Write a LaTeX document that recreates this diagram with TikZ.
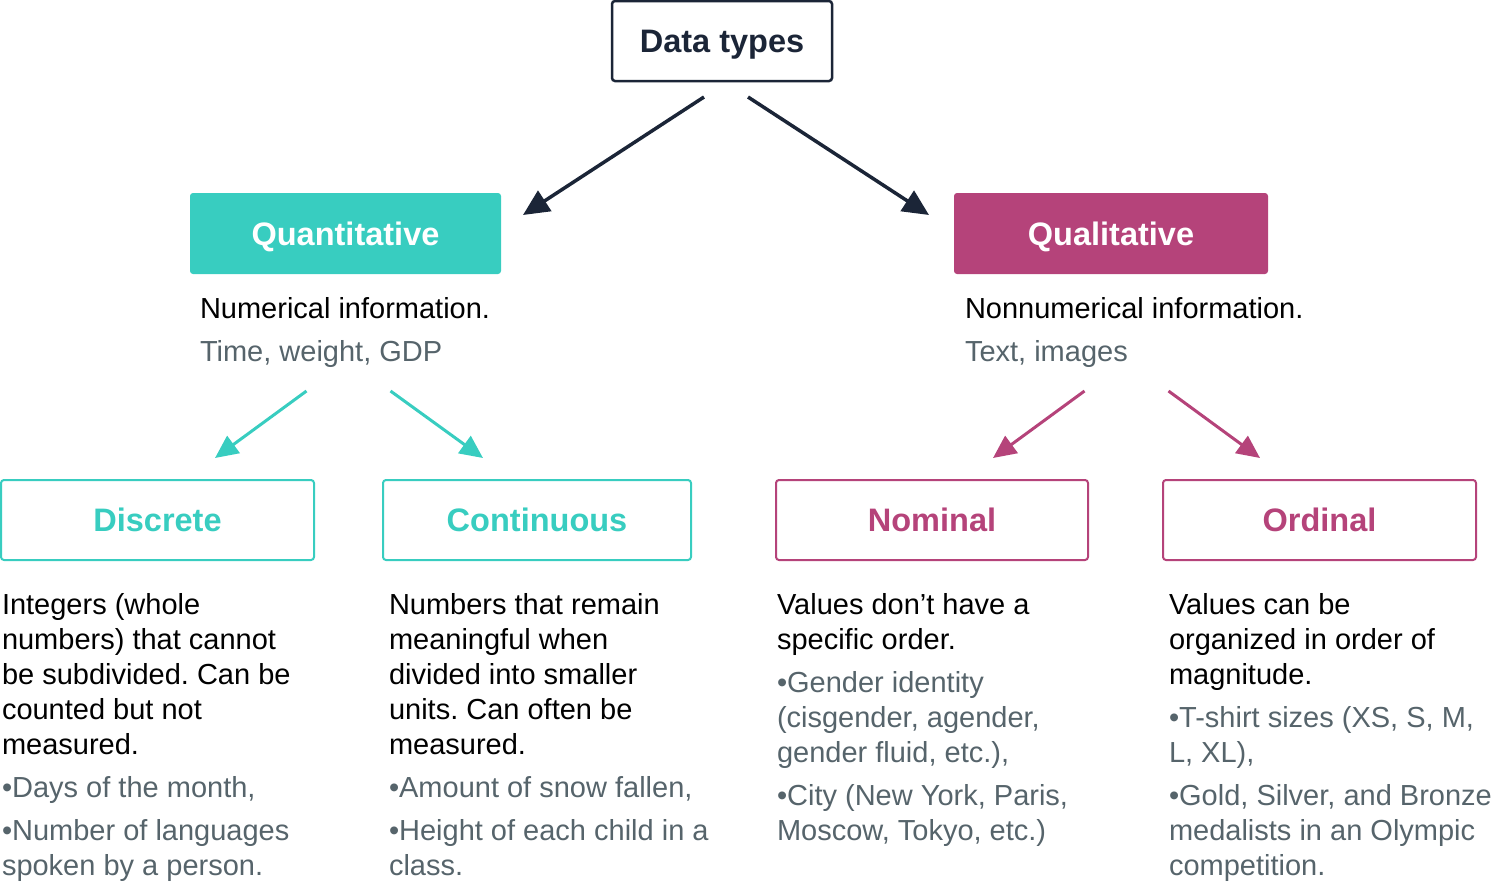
\documentclass[tikz,border=0pt]{standalone}
\usepackage{fontspec}
\setmainfont{Liberation Sans}
\usetikzlibrary{arrows.meta}
\frenchspacing

\definecolor{navy}{HTML}{1B2537}
\definecolor{quantc}{HTML}{38CDC0}
\definecolor{qualc}{HTML}{B5437A}
\definecolor{notec}{HTML}{56646B}

\begin{document}
\begin{tikzpicture}[x=1pt,y=-1pt,
  every node/.style={inner sep=0pt, outer sep=0pt},
  boxlabel/.style={font=\fontsize{32.5}{38}\selectfont\bfseries, text height=23pt, text depth=0pt,
                   minimum height=80pt, rounded corners=3pt},
  filledbox/.style={boxlabel, text=white, minimum height=81pt},
  framebox/.style={boxlabel, draw=#1, text=#1, line width=2pt, fill=white},
  % multi-line text blocks are placed by the baseline of their last line
  desc/.style={font=\fontsize{29}{35}\selectfont, text=black, align=left, anchor=base west},
  example/.style={desc, text=notec},
  bigarrow/.style={draw=navy, line width=3.5pt, -{Triangle[length=26pt,width=24pt]}},
  subarrow/.style={draw=#1, line width=3pt, -{Triangle[length=23pt,width=21pt]}}
]
\useasboundingbox (0,0) rectangle (1494,892);

% top level
\node[boxlabel, draw=navy, text=navy, line width=2.5pt, minimum width=220pt] (types) at (722,41) {Data types};

% second level
\node[filledbox, fill=quantc, minimum width=311pt] (quant) at (345.5,233.5) {Quantitative};
\node[filledbox, fill=qualc, minimum width=314pt] (qual) at (1111,233.5) {Qualitative};

\node[desc] (quantdesc) at (200,318) {Numerical information.};
\node[example] (quantex) at (200,361) {Time, weight, GDP};
\node[desc] (qualdesc) at (965,318) {Nonnumerical information.};
\node[example] (qualex) at (965,361) {Text, images};

% arrows from the top box
\coordinate (typesL) at (704,97);
\coordinate (typesR) at (748,97);
\coordinate (quantIn) at (523,215);
\coordinate (qualIn) at (929,215);
\draw[bigarrow] (typesL) -- (quantIn);
\draw[bigarrow] (typesR) -- (qualIn);

% third level
\node[framebox=quantc, minimum width=313pt] (disc) at (157.5,520) {Discrete};
\node[framebox=quantc, minimum width=308pt] (cont) at (537,520) {Continuous};
\node[framebox=qualc, minimum width=312pt] (nom) at (932,520) {Nominal};
\node[framebox=qualc, minimum width=313pt] (ord) at (1319.5,520) {Ordinal};

% arrows to the third level
\coordinate (quantL) at (306.5,391);
\coordinate (quantR) at (390.5,391);
\coordinate (qualL) at (1084.5,391);
\coordinate (qualR) at (1168.5,391);
\coordinate (discIn) at (215,458);
\coordinate (contIn) at (483,458);
\coordinate (nomIn) at (993,458);
\coordinate (ordIn) at (1260,458);
\draw[subarrow=quantc] (quantL) -- (discIn);
\draw[subarrow=quantc] (quantR) -- (contIn);
\draw[subarrow=qualc] (qualL) -- (nomIn);
\draw[subarrow=qualc] (qualR) -- (ordIn);

% descriptions and examples
\node[desc] (discdesc) at (2,754) {Integers (whole\\numbers) that cannot\\be subdivided. Can be\\counted but not\\measured.};
\node[example] (discex) at (2,875) {•Days of the month,\\[8pt]•Number of languages\\spoken by a person.};

\node[desc] (contdesc) at (389,754) {Numbers that remain\\meaningful when\\divided into smaller\\units. Can often be\\measured.};
\node[example] (contex) at (389,875) {•Amount of snow fallen,\\[8pt]•Height of each child in a\\class.};

\node[desc] (nomdesc) at (777,649) {Values don’t have a\\specific order.};
\node[example] (nomex) at (777,840) {•Gender identity\\(cisgender, agender,\\gender fluid, etc.),\\[8pt]•City (New York, Paris,\\Moscow, Tokyo, etc.)};

\node[desc] (orddesc) at (1169,684) {Values can be\\organized in order of\\magnitude.};
\node[example] (ordex) at (1169,875) {•T-shirt sizes (XS, S, M,\\L, XL),\\[8pt]•Gold, Silver, and Bronze\\medalists in an Olympic\\competition.};
\end{tikzpicture}
\end{document}
